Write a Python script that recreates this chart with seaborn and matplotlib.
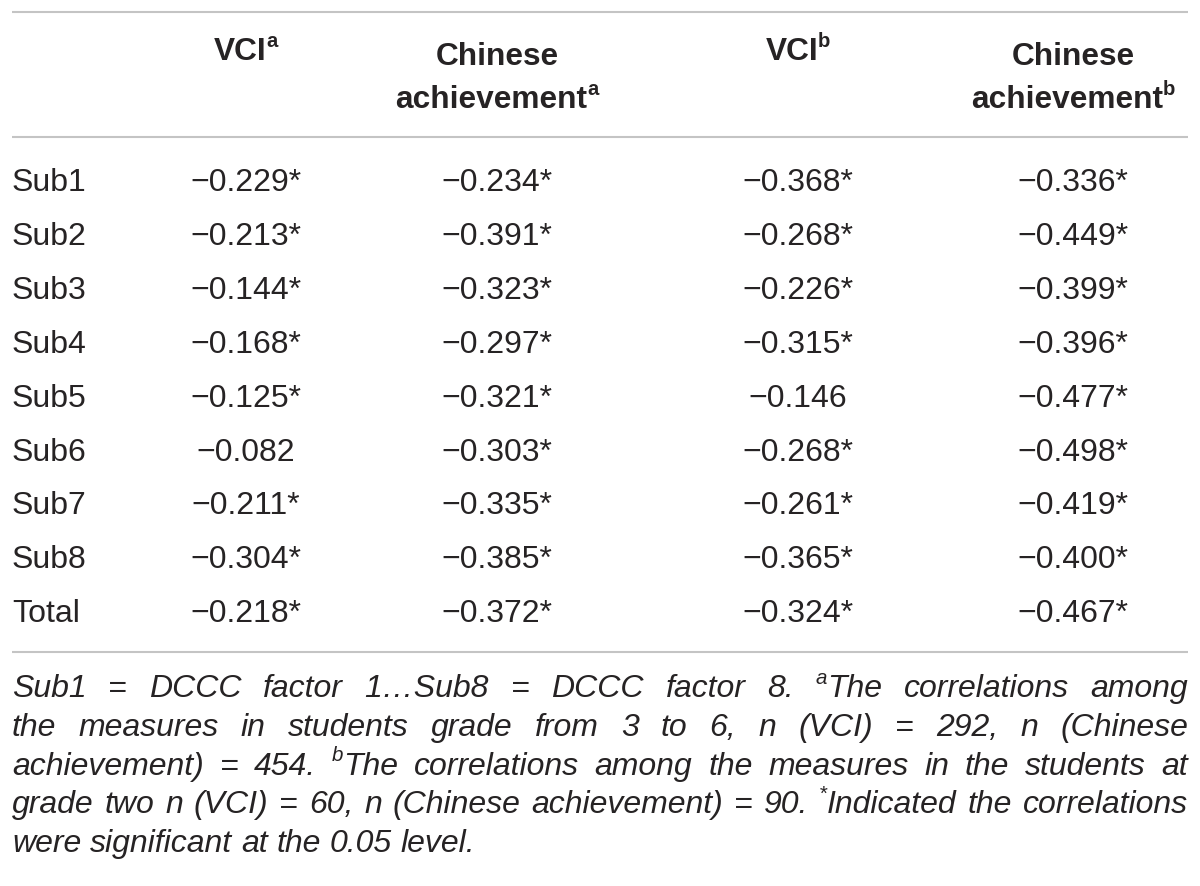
import matplotlib
matplotlib.use("Agg")
import matplotlib.pyplot as plt
import seaborn as sns

# ---------------- data ----------------
row_labels = ["Sub1", "Sub2", "Sub3", "Sub4", "Sub5", "Sub6", "Sub7", "Sub8", "Total"]
col_headers = [["VCI"], ["Chinese", "achievement"], ["VCI"], ["Chinese", "achievement"]]
col_marks = ["a", "a", "b", "b"]

vci_a = [-0.229, -0.213, -0.144, -0.168, -0.125, -0.082, -0.211, -0.304, -0.218]
chi_a = [-0.234, -0.391, -0.323, -0.297, -0.321, -0.303, -0.335, -0.385, -0.372]
vci_b = [-0.368, -0.268, -0.226, -0.315, -0.146, -0.268, -0.261, -0.365, -0.324]
chi_b = [-0.336, -0.449, -0.399, -0.396, -0.477, -0.498, -0.419, -0.400, -0.467]

sig_vci_a = [1, 1, 1, 1, 1, 0, 1, 1, 1]
sig_chi_a = [1, 1, 1, 1, 1, 1, 1, 1, 1]
sig_vci_b = [1, 1, 1, 1, 0, 1, 1, 1, 1]
sig_chi_b = [1, 1, 1, 1, 1, 1, 1, 1, 1]

columns = [vci_a, chi_a, vci_b, chi_b]
sigs = [sig_vci_a, sig_chi_a, sig_vci_b, sig_chi_b]

# footnote: each line is a list of words; each word a list of (text, kind)
N, S = "n", "s"
footnote_lines = [
    [[("Sub1", N)], [("=", N)], [("DCCC", N)], [("factor", N)], [("1…Sub8", N)], [("=", N)],
     [("DCCC", N)], [("factor", N)], [("8.", N)], [("a", S), ("The", N)], [("correlations", N)],
     [("among", N)]],
    [[(w, N)] for w in "the measures in students grade from 3 to 6, n (VCI) = 292, n (Chinese".split()],
    [[(w, N)] for w in "achievement) = 454.".split()] + [[("b", S), ("The", N)]] +
    [[(w, N)] for w in "correlations among the measures in the students at".split()],
    [[(w, N)] for w in "grade two n (VCI) = 60, n (Chinese achievement) = 90.".split()] +
    [[("*", S), ("Indicated", N)]] + [[(w, N)] for w in "the correlations".split()],
    [[(w, N)] for w in "were significant at the 0.05 level.".split()],
]
justify = [True, True, True, True, False]

# ---------------- style ----------------
sns.set_theme(style="white")
plt.rcParams["font.family"] = ["Liberation Sans", "DejaVu Sans"]

TXT = "#262324"
LINE = "#c4c4c4"
W, H = 1200, 886

fig = plt.figure(figsize=(W / 100, H / 100), dpi=100)
ax = fig.add_axes([0, 0, 1, 1])
ax.set_xlim(0, W)
ax.set_ylim(H, 0)
ax.axis("off")
renderer = fig.canvas.get_renderer()

LEFT, RIGHT = 12, 1188


def measure(s, **kw):
    t = ax.text(0, 0, s, **kw)
    w = t.get_window_extent(renderer).width
    t.remove()
    return w


def run_kw(kind, base_size, style, weight):
    size = base_size * (0.64 if kind == S else 1.0)
    return dict(fontsize=size, fontstyle=style, fontweight=weight, color=TXT)


def word_width(word, base_size, style, weight):
    return sum(measure(t, **run_kw(k, base_size, style, weight)) for t, k in word)


def draw_word(x, y, word, base_size, style, weight):
    for t, k in word:
        kw = run_kw(k, base_size, style, weight)
        dy = -base_size * 0.58 if k == S else 0
        ax.text(x, y + dy, t, ha="left", va="baseline", **kw)
        x += measure(t, **kw)
    return x


# rules
for yy in (12, 137, 652):
    ax.plot([LEFT, RIGHT], [yy, yy], color=LINE, lw=1.5, solid_capstyle="butt")

# header
col_centers = [246, 497, 798, 1073]
HSIZE = 22.8
for cx, lines, mark in zip(col_centers, col_headers, col_marks):
    if len(lines) == 1:
        ys = [60]
    else:
        ys = [65, 108]
    for i, (ln, yy) in enumerate(zip(lines, ys)):
        word = [(ln, N)]
        if i == len(lines) - 1:
            word = word + [(mark, S)]
        w = word_width(word, HSIZE, "normal", "bold")
        draw_word(cx - w / 2, yy, word, HSIZE, "normal", "bold")

# body
BSIZE = 23
row_base0, row_step = 191, 53.9
for r, lab in enumerate(row_labels):
    yy = row_base0 + r * row_step
    ax.text(LEFT, yy, lab, ha="left", va="baseline", fontsize=BSIZE, color=TXT)
    for c, cx in enumerate(col_centers):
        v = columns[c][r]
        s = f"{v:.3f}".replace("-", "\u2212") + ("*" if sigs[c][r] else "")
        ax.text(cx, yy, s, ha="center", va="baseline", fontsize=BSIZE, color=TXT)

# footnote (justified italic)
FSIZE = 23
foot_base0, foot_step = 697, 38.8
space_w = measure("x x", fontsize=FSIZE, fontstyle="italic") - measure("xx", fontsize=FSIZE, fontstyle="italic")
for i, (words, just) in enumerate(zip(footnote_lines, justify)):
    yy = foot_base0 + i * foot_step
    widths = [word_width(wd, FSIZE, "italic", "normal") for wd in words]
    if just and len(words) > 1:
        gap = (RIGHT - LEFT - sum(widths)) / (len(words) - 1)
    else:
        gap = space_w
    x = LEFT
    for wd, w in zip(words, widths):
        draw_word(x, yy, wd, FSIZE, "italic", "normal")
        x += w + gap

fig.savefig("out.png", dpi=100, facecolor="white")
